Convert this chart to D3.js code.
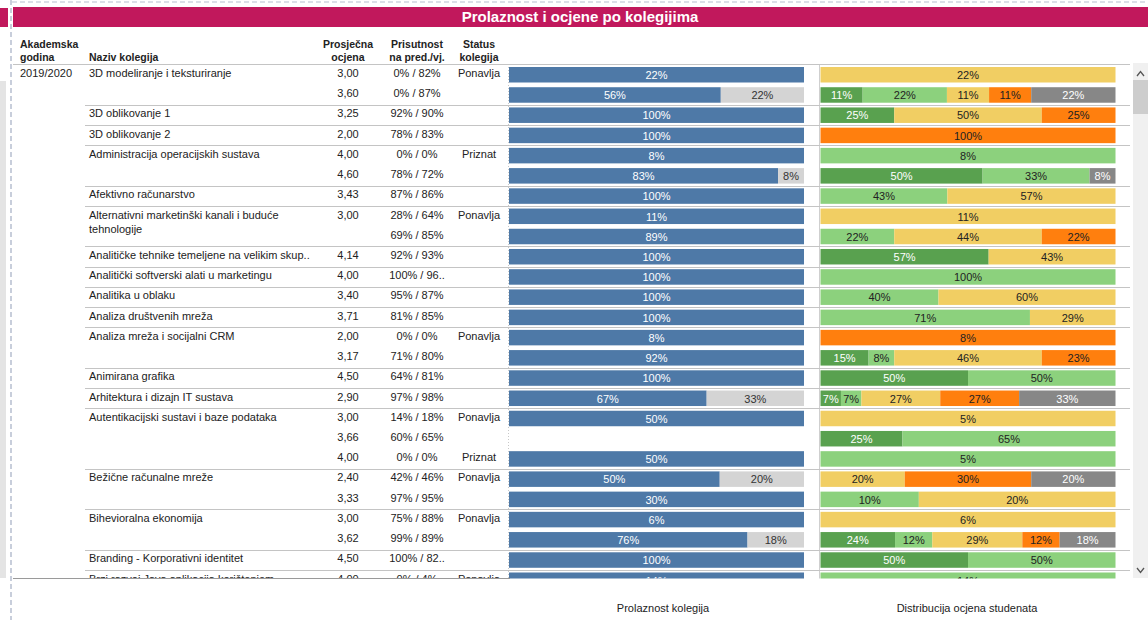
<!DOCTYPE html>
<meta charset="utf-8">
<body style="margin: 0; overflow: hidden; background: #fff">
<script src="https://cdn.jsdelivr.net/npm/d3@7"></script>
<script>
    // table columns, one entry per visible row ("" = same course as row above)
    var years = ["2019/2020"];
    var courses = ["3D modeliranje i teksturiranje", "", "3D oblikovanje 1", "3D oblikovanje 2",
        "Administracija operacijskih sustava", "", "Afektivno računarstvo",
        "Alternativni marketinški kanali i buduće tehnologije", "",
        "Analitičke tehnike temeljene na velikim skup..", "Analitički softverski alati u marketingu",
        "Analitika u oblaku", "Analiza društvenih mreža", "Analiza mreža i socijalni CRM", "",
        "Animirana grafika", "Arhitektura i dizajn IT sustava", "Autentikacijski sustavi i baze podataka",
        "", "", "Bežične računalne mreže", "", "Bihevioralna ekonomija", "",
        "Branding - Korporativni identitet", "Brzi razvoj Java aplikacija korištenjem"];
    var grades = ["3,00", "3,60", "3,25", "2,00", "4,00", "4,60", "3,43", "3,00", "", "4,14", "4,00",
        "3,40", "3,71", "2,00", "3,17", "4,50", "2,90", "3,00", "3,66", "4,00", "2,40", "3,33",
        "3,00", "3,62", "4,50", "4,00"];
    var attendance = ["0% / 82%", "0% / 87%", "92% / 90%", "78% / 83%", "0% / 0%", "78% / 72%",
        "87% / 86%", "28% / 64%", "69% / 85%", "92% / 93%", "100% / 96..", "95% / 87%", "81% / 85%",
        "0% / 0%", "71% / 80%", "64% / 81%", "97% / 98%", "14% / 18%", "60% / 65%", "0% / 0%",
        "42% / 46%", "97% / 95%", "75% / 88%", "99% / 89%", "100% / 82..", "0% / 4%"];
    var statuses = ["Ponavlja", "", "", "", "Priznat", "", "", "Ponavlja", "", "", "", "", "",
        "Ponavlja", "", "", "", "Ponavlja", "", "Priznat", "Ponavlja", "", "Ponavlja", "", "", "Ponavlja"];

    // prolaznost kolegija
    var passed = [22, 56, 100, 100, 8, 83, 100, 11, 89, 100, 100, 100, 100, 8, 92, 100, 67, 50, null,
        50, 50, 30, 6, 76, 100, 14];
    var notPassed = [null, 22, null, null, null, 8, null, null, null, null, null, null, null, null,
        null, null, 33, null, null, null, 20, null, null, 18, null, null];

    // distribucija ocjena (5, 4, 3, 2, nije položio)
    var grade5 = [null, 11, 25, null, null, 50, null, null, null, 57, null, null, null, null, 15, 50,
        7, null, 25, null, null, null, null, 24, 50, null];
    var grade4 = [null, 22, null, null, 8, 33, 43, null, 22, null, 100, 40, 71, null, 8, 50, 7, null,
        65, 5, null, 10, null, 12, 50, 14];
    var grade3 = [22, 11, 50, null, null, null, 57, 11, 44, 43, null, 60, 29, null, 46, null, 27, 5,
        null, null, 20, 20, 6, 29, null, null];
    var grade2 = [null, 11, 25, 100, null, null, null, null, 22, null, null, null, null, 8, 23, null,
        27, null, null, null, 30, null, null, 12, null, null];
    var gradeFail = [null, 22, null, null, null, 8, null, null, null, null, null, null, null, null,
        null, null, 33, null, null, null, 20, null, null, 18, null, null];

    var width = 1148, height = 620;
    var font = "'Liberation Sans', Arial, sans-serif";
    var n = courses.length;
    var rowTop = 64.5, rowStep = 20.22;

    var passKeys = [
        {values: passed, color: "#4e79a7", text: "#fff"},
        {values: notPassed, color: "#d4d4d4", text: "#333"}
    ];
    var distKeys = [
        {values: grade5, color: "#59a14f", text: "#fff"},
        {values: grade4, color: "#8cd17d", text: "#222"},
        {values: grade3, color: "#f1ce63", text: "#222"},
        {values: grade2, color: "#ff7f0e", text: "#222"},
        {values: gradeFail, color: "#878787", text: "#fff"}
    ];

    var svg = d3.select("body").append("svg")
        .attr("width", width)
        .attr("height", height)
        .style("font-family", font)
        .style("display", "block");

    // outer frame bits of the dashboard
    svg.append("line").attr("x1", 12).attr("x2", width).attr("y1", 2).attr("y2", 2)
        .attr("stroke", "#b7bfd0").attr("stroke-dasharray", "5,3");
    svg.append("line").attr("x1", 11).attr("x2", 11).attr("y1", 0).attr("y2", height)
        .attr("stroke", "#b7bfd0").attr("stroke-width", 1.5).attr("stroke-dasharray", "5,3");
    svg.append("rect").attr("x", 0).attr("y", 8).attr("width", 8).attr("height", 19).attr("fill", "#c1185c");
    svg.append("rect").attr("x", 0).attr("y", 81).attr("width", 6).attr("height", 497).attr("fill", "#e4e4e4");

    // title
    svg.append("rect").attr("x", 13).attr("y", 7).attr("width", width - 13).attr("height", 20)
        .attr("fill", "#c1185c");
    svg.append("text").attr("x", 580).attr("y", 22).attr("text-anchor", "middle")
        .attr("fill", "#fff").style("font-size", "15px").style("font-weight", "bold")
        .text("Prolaznost i ocjene po kolegijima");

    // column headers
    var headers = [
        {lines: ["Akademska", "godina"], x: 20, anchor: "start"},
        {lines: ["", "Naziv kolegija"], x: 89, anchor: "start"},
        {lines: ["Prosječna", "ocjena"], x: 348, anchor: "middle"},
        {lines: ["Prisutnost", "na pred./vj."], x: 417, anchor: "middle"},
        {lines: ["Status", "kolegija"], x: 479, anchor: "middle"}
    ];
    headers.forEach(function (h) {
        h.lines.forEach(function (l, i) {
            svg.append("text").attr("x", h.x).attr("y", 48 + i * 13)
                .attr("text-anchor", h.anchor).attr("fill", "#222")
                .style("font-size", "10.5px").style("font-weight", "bold").text(l);
        });
    });

    var y = d3.scaleBand().domain(d3.range(n)).range([rowTop, rowTop + n * rowStep]);
    var passRange = [509, 804], distRange = [820.5, 1115.5];

    svg.append("defs").append("clipPath").attr("id", "pane")
        .append("rect").attr("x", 13).attr("y", 64).attr("width", 1120).attr("height", 514.5);
    var pane = svg.append("g").attr("clip-path", "url(#pane)");

    // axis lines of the two bar panels
    pane.append("line").attr("x1", 508.5).attr("x2", 508.5).attr("y1", 64).attr("y2", 580)
        .attr("stroke", "#c8c8c8").attr("stroke-dasharray", "1,2");
    pane.append("line").attr("x1", 819.5).attr("x2", 819.5).attr("y1", 64).attr("y2", 580)
        .attr("stroke", "#cfcfcf");

    // separators at the start of each course
    d3.range(1, n).filter(function (i) { return courses[i] !== ""; }).forEach(function (i) {
        var yy = Math.round(y(i)) + 0.5;
        pane.append("line").attr("x1", 85).attr("x2", 1130).attr("y1", yy).attr("y2", yy)
            .attr("stroke", "#c4c4c4");
    });
    svg.append("line").attr("x1", 13).attr("x2", 1130).attr("y1", 64.5).attr("y2", 64.5)
        .attr("stroke", "#c4c4c4");

    var rows = pane.selectAll("g.row").data(d3.range(n)).join("g").attr("class", "row")
        .attr("transform", function (i) { return "translate(0," + y(i) + ")"; });

    var cell = function (x, anchor, fn) {
        rows.append("text").attr("x", x).attr("y", 12.5).attr("text-anchor", anchor)
            .attr("fill", "#222").style("font-size", "11px").text(fn);
    };
    cell(20, "start", function (i) { return years[i] || ""; });
    cell(348, "middle", function (i) { return grades[i]; });
    cell(417, "middle", function (i) { return attendance[i]; });
    cell(479, "middle", function (i) { return statuses[i]; });

    // course names, wrapped when wider than the column
    rows.each(function (i) {
        var t = d3.select(this).append("text").attr("x", 89).attr("y", 12.5)
            .attr("fill", "#222").style("font-size", "11px");
        var words = courses[i].split(" "), line = [];
        var tspan = t.append("tspan").attr("x", 89).attr("dy", 0);
        words.forEach(function (w) {
            line.push(w);
            tspan.text(line.join(" "));
            if (tspan.node().getComputedTextLength() > 232 && line.length > 1) {
                line.pop();
                tspan.text(line.join(" "));
                line = [w];
                tspan = t.append("tspan").attr("x", 89).attr("dy", 14).text(w);
            }
        });
    });

    // stacked bars, each row scaled to its own total
    var drawStack = function (keys, range) {
        rows.each(function (i) {
            var segs = keys.filter(function (k) { return k.values[i] != null; });
            var total = d3.sum(segs, function (k) { return k.values[i]; });
            if (!total) return;
            var x = d3.scaleLinear().domain([0, total]).range(range);
            var acc = 0, g = d3.select(this);
            segs.forEach(function (k) {
                var v = k.values[i];
                var x0 = x(acc), x1 = x(acc + v);
                acc += v;
                g.append("rect").attr("x", x0).attr("y", 2.5).attr("width", x1 - x0)
                    .attr("height", 15.5).attr("fill", k.color);
                g.append("text").attr("x", (x0 + x1) / 2).attr("y", 14.5)
                    .attr("text-anchor", "middle").attr("fill", k.text)
                    .style("font-size", "11px").text(v + "%");
            });
        });
    };
    drawStack(passKeys, passRange);
    drawStack(distKeys, distRange);

    svg.append("line").attr("x1", 13).attr("x2", 510).attr("y1", 578.5).attr("y2", 578.5)
        .attr("stroke", "#9a9a9a");

    // scrollbar
    svg.append("rect").attr("x", 1133).attr("y", 63).attr("width", 15).attr("height", 515).attr("fill", "#f0f0f0");
    svg.append("rect").attr("x", 1133).attr("y", 80).attr("width", 15).attr("height", 34).attr("fill", "#cdcdcd");
    svg.append("path").attr("d", "M1137,76 L1140.5,71.5 L1144,76").attr("fill", "none").attr("stroke", "#555").attr("stroke-width", 1.3);
    svg.append("path").attr("d", "M1137,568 L1140.5,572.5 L1144,568").attr("fill", "none").attr("stroke", "#555").attr("stroke-width", 1.3);

    // panel captions
    svg.append("text").attr("x", 663).attr("y", 612).attr("text-anchor", "middle").attr("fill", "#222")
        .style("font-size", "11px").text("Prolaznost kolegija");
    svg.append("text").attr("x", 967).attr("y", 612).attr("text-anchor", "middle").attr("fill", "#222")
        .style("font-size", "11px").text("Distribucija ocjena studenata");
</script>
